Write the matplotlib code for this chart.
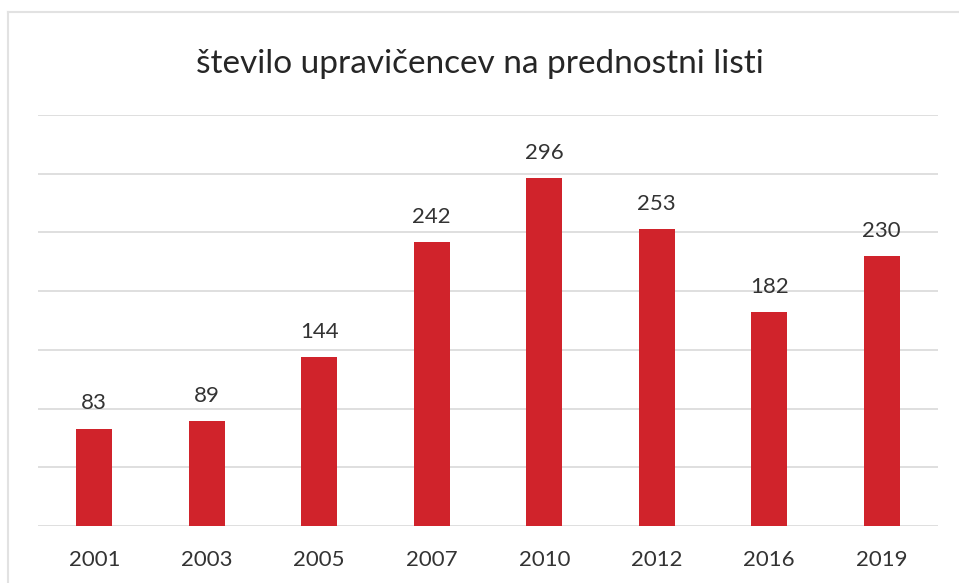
import matplotlib.pyplot as plt
from matplotlib.lines import Line2D

years = ['2001', '2003', '2005', '2007', '2010', '2012', '2016', '2019']
counts = [83, 89, 144, 242, 296, 253, 182, 230]

bar_color = '#d0232b'
text_color = '#333333'
grid_color = '#d9d9d9'

plt.rcParams['font.family'] = ['Lato', 'DejaVu Sans']

fig = plt.figure(figsize=(9.59, 5.83), dpi=100)
ax = fig.add_axes([38 / 959, 1 - 526 / 583, 900 / 959, 411 / 583])

x = range(len(years))
ax.bar(x, counts, width=0.32, color=bar_color, zorder=3)
for xi, v in zip(x, counts):
    ax.annotate(str(v), (xi, v), xytext=(0, 11), textcoords='offset points',
                ha='center', va='bottom', fontsize=16, color=text_color)

ax.set_xlim(-0.5, len(years) - 0.5)
ax.set_ylim(0, 350)
ax.set_yticks(range(0, 351, 50))
ax.yaxis.grid(True, color=grid_color, linewidth=1.2, zorder=0)
ax.tick_params(axis='y', left=False, labelleft=False)
ax.set_xticks(list(x))
ax.set_xticklabels(years, fontsize=16, color=text_color)
ax.tick_params(axis='x', length=0, pad=17)
for s in ax.spines.values():
    s.set_visible(False)

fig.text(0.5, 1 - 64 / 583, 'število upravičencev na prednostni listi',
         ha='center', va='center', fontsize=24, color='#262626')

# light frame around the chart area
fig.add_artist(Line2D([8 / 959, 8 / 959], [0, 1 - 12 / 583], color='#e2e2e2', lw=1.5))
fig.add_artist(Line2D([8 / 959, 1], [1 - 12 / 583, 1 - 12 / 583], color='#e2e2e2', lw=1.5))

fig.savefig('out.png', dpi=100)
